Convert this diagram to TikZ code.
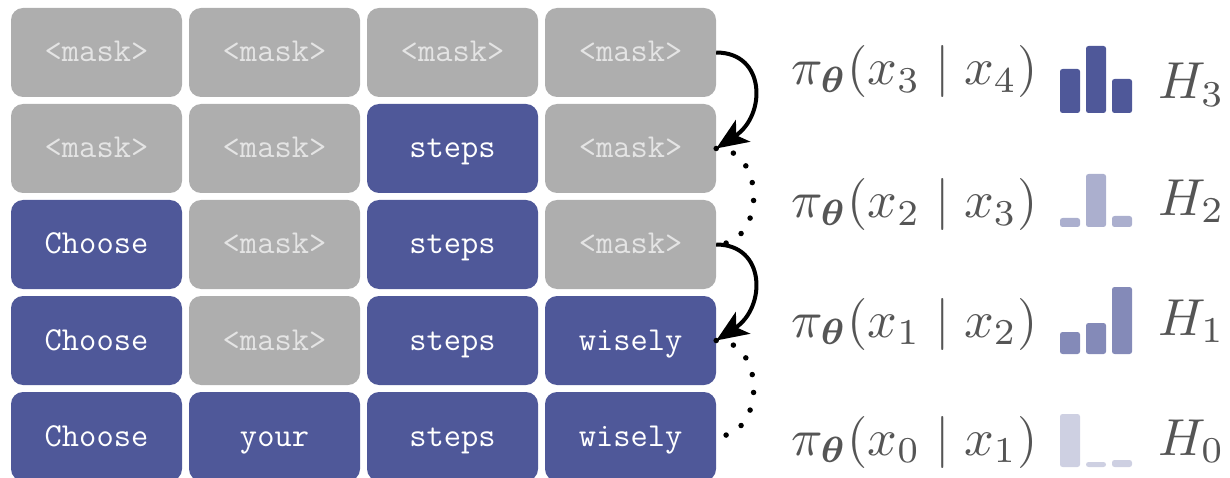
\documentclass[tikz,border=0pt]{standalone}
\usepackage{amsmath}
\usetikzlibrary{arrows.meta}
\definecolor{tokblue}{HTML}{4F5899}
\definecolor{tokgray}{HTML}{AEAEAE}
\definecolor{maskgray}{HTML}{E4E4E4}
\definecolor{mathgray}{HTML}{555555}
\begin{document}
\begin{tikzpicture}[x=1pt,y=-1pt,
  tok/.style={rounded corners=12pt, minimum width=171pt, minimum height=89pt, inner sep=0pt,
    text height=24pt, text depth=5pt,
    font=\ttfamily\fontsize{33.5}{38}\selectfont},
  mask/.style={tok, fill=tokgray, text=maskgray},
  word/.style={tok, fill=tokblue, text=white},
  solidarr/.style={line width=4pt, -{Stealth[length=32pt,width=26pt,inset=8pt]}},
  dotarr/.style={line width=5.5pt, line cap=round, dash pattern=on 0pt off 18pt},
  mathtxt/.style={inner sep=0pt, anchor=base west, text=mathgray, font=\normalsize, scale=5.2, transform shape},
  bar/.style={rounded corners=2.5pt}
]
\useasboundingbox (0,0) rectangle (1230,478);
% row 1
\node[mask] (c11) at (96.5,52.5) {<mask>};
\node[mask] (c12) at (274.5,52.5) {<mask>};
\node[mask] (c13) at (452.5,52.5) {<mask>};
\node[mask] (c14) at (630.5,52.5) {<mask>};
% row 2
\node[mask] (c21) at (96.5,148.5) {<mask>};
\node[mask] (c22) at (274.5,148.5) {<mask>};
\node[word] (c23) at (452.5,148.5) {steps};
\node[mask] (c24) at (630.5,148.5) {<mask>};
% row 3
\node[word] (c31) at (96.5,244.5) {Choose};
\node[mask] (c32) at (274.5,244.5) {<mask>};
\node[word] (c33) at (452.5,244.5) {steps};
\node[mask] (c34) at (630.5,244.5) {<mask>};
% row 4
\node[word] (c41) at (96.5,340.5) {Choose};
\node[mask] (c42) at (274.5,340.5) {<mask>};
\node[word] (c43) at (452.5,340.5) {steps};
\node[word] (c44) at (630.5,340.5) {wisely};
% row 5
\node[word] (c51) at (96.5,436.5) {Choose};
\node[word] (c52) at (274.5,436.5) {your};
\node[word] (c53) at (452.5,436.5) {steps};
\node[word] (c54) at (630.5,436.5) {wisely};
% connectors
\draw[solidarr] (c14.east) .. controls +(50,0) and +(50,-33) .. (c24.east);
\draw[dotarr] (c24.east) .. controls +(50,0) and +(50,0) .. (c34.east);
\draw[solidarr] (c34.east) .. controls +(50,0) and +(50,-33) .. (c44.east);
\draw[dotarr] (c44.east) .. controls +(50,0) and +(50,0) .. (c54.east);
% formulas
\node[mathtxt] (p3) at (790,85) {$\pi_{\boldsymbol{\theta}}(x_3 \mid x_4)$};
\node[mathtxt] (p2) at (790,218) {$\pi_{\boldsymbol{\theta}}(x_2 \mid x_3)$};
\node[mathtxt] (p1) at (790,337) {$\pi_{\boldsymbol{\theta}}(x_1 \mid x_2)$};
\node[mathtxt] (p0) at (790,455) {$\pi_{\boldsymbol{\theta}}(x_0 \mid x_1)$};
\node[mathtxt] (h3) at (1157,99) {$H_3$};
\node[mathtxt] (h2) at (1157,215) {$H_2$};
\node[mathtxt] (h1) at (1157,335) {$H_1$};
\node[mathtxt] (h0) at (1157,455) {$H_0$};
% bars
\fill[bar, tokblue] (1060,69) rectangle (1080,113);
\fill[bar, tokblue] (1086,46) rectangle (1106,113);
\fill[bar, tokblue] (1112,79) rectangle (1132,113);
\fill[bar, tokblue!48] (1060,218) rectangle (1080,227);
\fill[bar, tokblue!48] (1086,174) rectangle (1106,227);
\fill[bar, tokblue!48] (1112,216) rectangle (1132,227);
\fill[bar, tokblue!70] (1060,332) rectangle (1080,354);
\fill[bar, tokblue!70] (1086,323) rectangle (1106,354);
\fill[bar, tokblue!70] (1112,287) rectangle (1132,354);
\fill[bar, tokblue!28] (1060,414) rectangle (1080,467);
\fill[bar, tokblue!28] (1086,462) rectangle (1106,467);
\fill[bar, tokblue!28] (1112,460) rectangle (1132,467);
\end{tikzpicture}
\end{document}
